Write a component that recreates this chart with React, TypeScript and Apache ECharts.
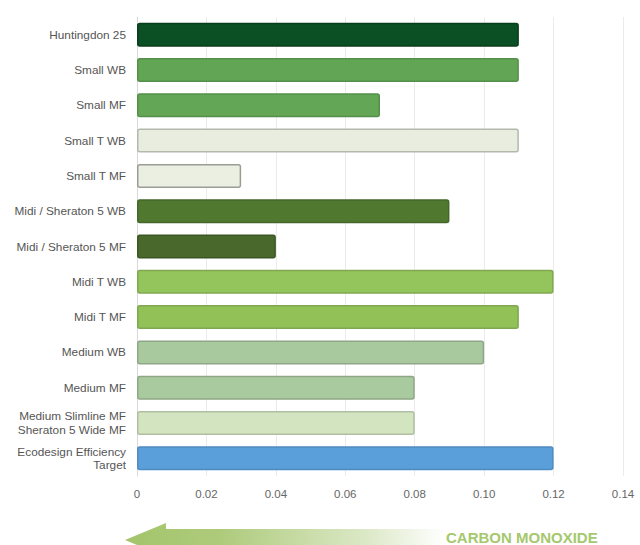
import React, { useEffect, useRef } from "react";
import * as echarts from "echarts";

const categories = [
  "Huntingdon 25",
  "Small WB",
  "Small MF",
  "Small T WB",
  "Small T MF",
  "Midi / Sheraton 5 WB",
  "Midi / Sheraton 5 MF",
  "Midi T WB",
  "Midi T MF",
  "Medium WB",
  "Medium MF",
  "Medium Slimline MF\nSheraton 5 Wide MF",
  "Ecodesign Efficiency\nTarget",
];

const values = [0.11, 0.11, 0.07, 0.11, 0.03, 0.09, 0.04, 0.12, 0.11, 0.1, 0.08, 0.08, 0.12];

const barColors = [
  "#0b4f25",
  "#62a655",
  "#63a656",
  "#e9eddf",
  "#ebefe2",
  "#50792f",
  "#48692b",
  "#94c45c",
  "#92c158",
  "#a8c99d",
  "#a9ca9f",
  "#d3e4c1",
  "#5a9fda",
];

const borderColors = [
  "#0a3d1d",
  "#55904a",
  "#55904a",
  "#b4b8ad",
  "#9a9d94",
  "#44672a",
  "#3a5623",
  "#7fa850",
  "#7fa850",
  "#8fa687",
  "#8fa687",
  "#b0bea2",
  "#4d8bc0",
];

const xTicks = [0, 0.02, 0.04, 0.06, 0.08, 0.1, 0.12, 0.14];

const FONT = "'Liberation Sans', Arial, Helvetica, sans-serif";

export default function App() {
  const ref = useRef<HTMLDivElement>(null);

  useEffect(() => {
    if (!ref.current) return;
    const chart = echarts.init(ref.current, undefined, { renderer: "svg" });
    chart.setOption({
      animation: false,
      backgroundColor: "#ffffff",
      grid: { left: 137, right: 17, top: 17, bottom: 69 },
      xAxis: {
        type: "value",
        min: xTicks[0],
        max: xTicks[xTicks.length - 1],
        interval: 0.02,
        axisLine: { show: false },
        axisTick: { show: false },
        splitLine: { show: true, lineStyle: { color: "#ebebeb", width: 1 } },
        axisLabel: {
          margin: 12,
          color: "#666666",
          fontSize: 11.5,
          fontFamily: FONT,
          formatter: (v: number) => (v === 0 ? "0" : v.toFixed(2)),
        },
      },
      yAxis: {
        type: "category",
        data: categories,
        inverse: true,
        axisLine: { show: true, lineStyle: { color: "#d8d8d8" } },
        axisTick: { show: false },
        axisLabel: {
          margin: 11,
          color: "#555555",
          fontSize: 11.8,
          lineHeight: 13.5,
          fontFamily: FONT,
        },
      },
      series: [
        {
          type: "bar",
          barWidth: 24,
          data: values.map((v, i) => ({
            value: v,
            itemStyle: {
              color: barColors[i],
              borderColor: borderColors[i],
              borderWidth: 1.5,
              borderRadius: 2,
            },
          })),
        },
      ],
      graphic: [
        {
          type: "polygon",
          shape: {
            points: [
              [125, 540],
              [166, 523],
              [166, 529],
              [445, 529],
              [445, 552],
              [166, 552],
              [166, 557],
            ],
          },
          style: {
            fill: new echarts.graphic.LinearGradient(0, 0, 1, 0, [
              { offset: 0, color: "#a3c46a" },
              { offset: 0.3, color: "#aecb7c" },
              { offset: 0.75, color: "#dbe8c6" },
              { offset: 1, color: "#ffffff" },
            ]),
          },
        },
        {
          type: "text",
          left: 446,
          top: 530,
          style: {
            text: "CARBON MONOXIDE",
            fill: "#a5c86d",
            font: `bold 15px ${FONT}`,
          },
        },
      ],
    });
    return () => chart.dispose();
  }, []);

  return (
    <div
      ref={ref}
      style={{ position: "fixed", left: 0, top: 0, width: 640, height: 545 }}
    />
  );
}
